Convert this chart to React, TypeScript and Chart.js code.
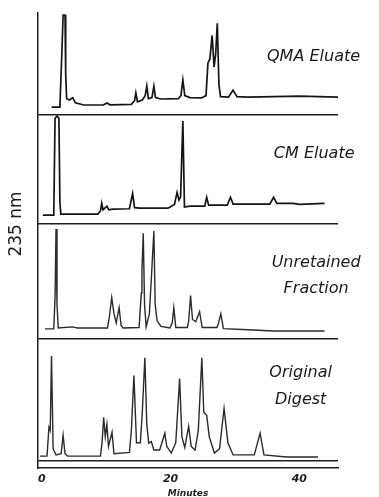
import { useEffect, useRef } from "react";
import { Chart, registerables } from "chart.js";

Chart.register(...registerables);

// Tick labels (minutes)
const xTicks = [0, 20, 40];
const xTitle = "Minutes";
const yTitle = "235 nm";

// QMA Eluate
const qmaTime = [1.5, 2.8, 3.1, 3.3, 3.6, 3.7, 3.85, 4.3, 4.8, 5.2, 6.5, 9.6, 10.1, 10.6, 13.9, 14.4, 14.6, 14.85, 15.6, 16.05, 16.3, 16.55, 17.1, 17.4, 17.65, 18.5, 21.2, 21.6, 21.9, 22.2, 23.0, 24.8, 25.5, 25.8, 26.1, 26.45, 26.75, 27.0, 27.25, 27.5, 27.75, 29.0, 29.7, 30.3, 32, 36, 40, 46];
const qmaValue = [7.8, 7.8, 60, 98, 98, 40, 16, 14.7, 17, 12, 9.8, 10, 11.8, 10, 10.5, 14, 21.6, 13, 14.7, 19, 28.4, 16, 17, 28.4, 17, 15.7, 16, 19, 34.3, 19, 17, 16.7, 19, 51, 55, 78, 47, 60, 90, 30, 18, 17.6, 24.5, 18, 17.6, 18, 18.5, 17.6];

// CM Eluate
const cmTime = [0.15, 1.85, 2.05, 2.35, 2.65, 2.8, 2.95, 8.7, 9.1, 9.3, 9.5, 10.1, 10.4, 11, 13.6, 14.1, 14.4, 15.2, 19.6, 20.6, 21.0, 21.3, 21.55, 21.9, 22.15, 23, 25.3, 25.6, 25.9, 28.8, 29.3, 29.7, 35.4, 36.0, 36.5, 39, 40, 43.9];
const cmValue = [8.2, 8.2, 97, 99, 97, 20, 9.1, 9.1, 12, 19, 13, 16.4, 13, 13.6, 14, 28, 15, 14.5, 14.5, 18, 29, 22, 25, 94.5, 15.5, 16.4, 16.4, 24.5, 17.3, 17.3, 24.5, 18.2, 18.2, 24.5, 19, 19, 18, 19];

// Unretained Fraction
const unrTime = [0.5, 1.85, 2.05, 2.2, 2.35, 2.55, 4.7, 5.5, 10.2, 10.5, 10.85, 11.2, 11.55, 12.0, 12.3, 12.6, 15.1, 15.45, 15.55, 15.75, 15.95, 16.2, 16.7, 17.0, 17.4, 17.6, 17.9, 18.5, 19.9, 20.25, 20.5, 20.8, 22.6, 22.8, 23.1, 23.4, 23.9, 24.5, 24.9, 27.2, 27.45, 27.8, 28.2, 32, 36, 43.9];
const unrValue = [8.8, 8.8, 36, 95.6, 30, 9.6, 10.5, 9.6, 9.6, 20, 36, 22, 14, 27.2, 12, 9.6, 10, 40, 60, 92, 30, 10.5, 22, 52, 93.9, 30, 15.8, 11, 9.6, 14, 27.2, 10, 10, 15, 37.7, 17, 15, 23.7, 10, 10, 14, 21.9, 9, 8, 7, 7];

// Original Digest
const digTime = [-0.3, 0.8, 1.1, 1.3, 1.5, 1.75, 2.2, 3.0, 3.3, 3.6, 4.0, 9.1, 9.35, 9.6, 9.85, 10.1, 10.35, 10.9, 11.2, 13.6, 13.9, 14.3, 14.7, 15.3, 15.6, 16.0, 16.3, 16.6, 17.0, 17.4, 18.3, 19.1, 19.4, 20.1, 20.8, 21.4, 21.75, 22.2, 22.8, 23.2, 23.8, 24.3, 24.85, 25.15, 25.6, 26.0, 26.8, 27.6, 28.3, 28.9, 29.7, 33.0, 33.9, 34.5, 38, 42.9];
const digValue = [4, 4, 27.6, 25, 86, 10, 4.9, 6, 21, 6, 4, 4, 15, 35.8, 20, 30, 12, 23.6, 6, 7, 25, 70, 15, 15, 40, 84.6, 30, 14.6, 16, 9, 9, 22.8, 12, 6.5, 15, 67.5, 20, 11, 28.5, 12, 8.9, 25, 84.6, 40, 37.4, 20, 6.5, 10, 43, 15, 5, 5, 22.8, 5, 3.3, 3.3];

const panelNames = [["QMA Eluate"], ["CM Eluate"], ["Unretained", "Fraction"], ["Original", "Digest"]];

export default function App() {
  const ref = useRef<HTMLCanvasElement>(null);

  useEffect(() => {
    if (!ref.current) return;
    const pts = (t: number[], v: number[]) => t.map((x, i) => ({ x, y: v[i] }));

    const panels = [
      { id: "p1", t: qmaTime, v: qmaValue, color: "#141414", width: 1.7, weight: 102, label: { x: 42.2, y: [57], font: 16 } },
      { id: "p2", t: cmTime, v: cmValue, color: "#141414", width: 1.7, weight: 109, label: { x: 42.3, y: [64.5], font: 16 } },
      { id: "p3", t: unrTime, v: unrValue, color: "#2a2a2a", width: 1.4, weight: 115, label: { x: 42.6, y: [66, 44], font: 16 } },
      { id: "p4", t: digTime, v: digValue, color: "#2a2a2a", width: 1.4, weight: 122, label: { x: 40.2, y: [72, 50], font: 16 } },
    ];

    const yScale = (weight: number) => ({
      type: "linear",
      position: "left",
      stack: "panels",
      stackWeight: weight,
      min: 0,
      max: 100,
      afterBuildTicks: (s: any) => { s.ticks = [{ value: 0 }]; },
      afterFit: (s: any) => { s.width = 0; },
      ticks: { display: false },
      grid: { display: true, drawTicks: false, color: "#1e1e1e", lineWidth: 1.4 },
      border: { display: true, color: "#1e1e1e", width: 1.5 },
    });

    const scales: any = {
      x: {
        type: "linear",
        position: "bottom",
        min: -0.6,
        max: 46,
        afterBuildTicks: (s: any) => { s.ticks = xTicks.map((value) => ({ value })); },
        afterFit: (s: any) => { s.height = 29; },
        grid: { display: false, drawTicks: false },
        border: { display: true, color: "#1e1e1e", width: 1.5 },
        ticks: {
          padding: 5,
          color: "#1e1e1e",
          font: { family: '"DejaVu Sans"', size: 11, style: "italic", weight: "bold" },
        },
        title: {
          display: true,
          text: xTitle,
          color: "#1e1e1e",
          padding: { top: 0, bottom: -2 },
          font: { family: '"DejaVu Sans"', size: 9, style: "italic", weight: "bold" },
        },
      },
      spacer: {
        ...yScale(7),
        max: 1,
        grid: { display: false },
      },
    };
    // bottom-to-top definition order
    [...panels].reverse().forEach((p) => { scales[p.id] = yScale(p.weight); });

    const labelPlugin = {
      id: "panelLabels",
      afterDraw(chart: any) {
        const ctx = chart.ctx;
        const xs = chart.scales.x;
        ctx.save();
        ctx.fillStyle = "#1a1a1a";
        ctx.textAlign = "center";
        ctx.textBaseline = "middle";
        panels.forEach((p, i) => {
          const ys = chart.scales[p.id];
          ctx.font = `italic ${p.label.font}px "DejaVu Sans"`;
          panelNames[i].forEach((line, j) => {
            ctx.fillText(line, xs.getPixelForValue(p.label.x), ys.getPixelForValue(p.label.y[j]));
          });
        });
        const yc = chart.scales.p2.bottom;
        ctx.translate(chart.chartArea.left - 21, yc);
        ctx.rotate(-Math.PI / 2);
        ctx.font = '17px "DejaVu Sans"';
        ctx.fillText(yTitle, 0, 0);
        ctx.restore();
      },
    };

    const chart = new Chart(ref.current, {
      type: "line",
      data: {
        datasets: panels.map((p) => ({
          data: pts(p.t, p.v),
          yAxisID: p.id,
          borderColor: p.color,
          borderWidth: p.width,
          pointRadius: 0,
          tension: 0,
          fill: false,
        })),
      },
      options: {
        responsive: false,
        animation: false,
        layout: { padding: { left: 38, right: 41, top: 13, bottom: 0 } },
        plugins: { legend: { display: false }, tooltip: { enabled: false } },
        scales,
      } as any,
      plugins: [labelPlugin],
    });
    return () => chart.destroy();
  }, []);

  return (
    <div style={{ position: "fixed", left: 0, top: 0, width: 379, height: 497, background: "#fff" }}>
      <canvas ref={ref} width={379} height={497} style={{ display: "block" }} />
    </div>
  );
}
